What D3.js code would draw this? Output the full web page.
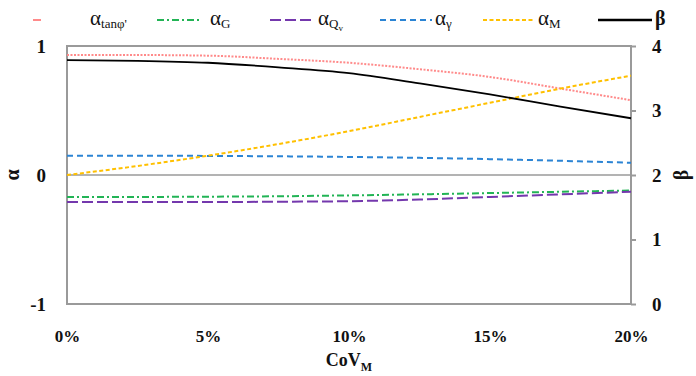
<!DOCTYPE html>
<html>
<head>
<meta charset="utf-8">
<script src="https://cdn.jsdelivr.net/npm/d3@7"></script>
<style>
  html, body { margin: 0; padding: 0; background: #fff; }
  svg { display: block; }
  text { font-family: "Liberation Serif", "Times New Roman", serif; }
</style>
</head>
<body>
<div id="chart"></div>
<script>
// CoV_M values (fraction)
const covM = [0, 0.025, 0.05, 0.075, 0.10, 0.125, 0.15, 0.175, 0.20];

// sensitivity factors (left axis)
const alphaTanPhi = [0.93, 0.93, 0.925, 0.90, 0.87, 0.82, 0.76, 0.67, 0.58];
const alphaG      = [-0.17, -0.17, -0.168, -0.165, -0.158, -0.15, -0.14, -0.13, -0.12];
const alphaQv     = [-0.21, -0.21, -0.21, -0.207, -0.203, -0.19, -0.17, -0.15, -0.13];
const alphaGamma  = [0.15, 0.15, 0.148, 0.145, 0.14, 0.133, 0.123, 0.11, 0.095];
const alphaM      = [0, 0.07, 0.15, 0.24, 0.34, 0.45, 0.56, 0.67, 0.77];

// reliability index (right axis)
const beta = [3.78, 3.77, 3.74, 3.67, 3.58, 3.42, 3.25, 3.06, 2.88];

const xTicks = [0, 0.05, 0.10, 0.15, 0.20];
const leftTicks = [-1, 0, 1];
const rightTicks = [0, 1, 2, 3, 4];

const W = 696, H = 376;
const margin = { top: 46, right: 65, bottom: 72, left: 67 };
const width = W - margin.left - margin.right;
const height = H - margin.top - margin.bottom;

const svg = d3.select('#chart').append('svg')
  .attr('width', W)
  .attr('height', H);

const g = svg.append('g')
  .attr('transform', `translate(${margin.left},${margin.top})`);

const x = d3.scaleLinear().domain([0, 0.2]).range([0, width]);
const yL = d3.scaleLinear().domain([-1, 1]).range([height, 0]);
const yR = d3.scaleLinear().domain([0, 4]).range([height, 0]);

// frame
g.append('rect')
  .attr('width', width)
  .attr('height', height)
  .attr('fill', 'none')
  .attr('stroke', '#9a9a9a')
  .attr('stroke-width', 2);

// zero line
g.append('line')
  .attr('x1', 0).attr('x2', width)
  .attr('y1', yL(0)).attr('y2', yL(0))
  .attr('stroke', '#9a9a9a')
  .attr('stroke-width', 1.5);

// x axis labels
const xAxis = g.append('g')
  .attr('transform', `translate(0,${height})`)
  .call(d3.axisBottom(x).tickValues(xTicks).tickSize(0).tickPadding(26)
    .tickFormat(d => Math.round(d * 100) + '%'));
xAxis.select('.domain').remove();
xAxis.selectAll('text')
  .attr('font-family', '"Liberation Serif", serif')
  .attr('font-weight', 'bold')
  .attr('font-size', 17)
  .attr('fill', '#111');

// left axis labels (plain hyphen for negatives)
const lAxis = g.append('g')
  .call(d3.axisLeft(yL).tickValues(leftTicks).tickSize(0).tickPadding(21)
    .tickFormat(d => String(d)));
lAxis.select('.domain').remove();
lAxis.selectAll('text')
  .attr('font-family', '"Liberation Serif", serif')
  .attr('font-weight', 'bold')
  .attr('font-size', 19)
  .attr('fill', '#111');

// right axis with tick marks
const rAxis = g.append('g')
  .attr('transform', `translate(${width},0)`)
  .call(d3.axisRight(yR).tickValues(rightTicks).tickSize(5).tickPadding(16)
    .tickFormat(d => String(d)));
rAxis.select('.domain').remove();
rAxis.selectAll('line').attr('stroke', '#9a9a9a').attr('stroke-width', 2);
rAxis.selectAll('text')
  .attr('font-family', '"Liberation Serif", serif')
  .attr('font-weight', 'bold')
  .attr('font-size', 19)
  .attr('fill', '#111');

// axis titles
svg.append('text')
  .attr('transform', `translate(19,${margin.top + yL(0)}) rotate(-90)`)
  .attr('text-anchor', 'middle')
  .attr('font-size', 20)
  .attr('font-weight', 'bold')
  .attr('fill', '#111')
  .text('α');

svg.append('text')
  .attr('transform', `translate(688,${margin.top + yR(2)}) rotate(-90)`)
  .attr('text-anchor', 'middle')
  .attr('font-size', 20)
  .attr('font-weight', 'bold')
  .attr('fill', '#111')
  .text('β');

const xTitle = svg.append('text')
  .attr('x', margin.left + width / 2)
  .attr('y', 366)
  .attr('text-anchor', 'middle')
  .attr('font-size', 18)
  .attr('font-weight', 'bold')
  .attr('fill', '#111');
xTitle.append('tspan').text('CoV');
xTitle.append('tspan').attr('font-size', 12).attr('dy', 5).text('M');

// series
const series = [
  { name: 'tanφ\'', values: alphaTanPhi, scale: yL, color: '#ff8a8a', dash: '2,1.5', w: 2 },
  { name: 'G', values: alphaG, scale: yL, color: '#22b455', dash: '7,3,2,3', w: 2 },
  { name: 'Qv', values: alphaQv, scale: yL, color: '#7438ad', dash: '11,4', w: 2 },
  { name: 'γ', values: alphaGamma, scale: yL, color: '#2b84d4', dash: '6,4', w: 2 },
  { name: 'M', values: alphaM, scale: yL, color: '#ffc000', dash: '4,2.5', w: 2 },
  { name: 'β', values: beta, scale: yR, color: '#000', dash: null, w: 1.8 }
];

series.forEach(s => {
  const line = d3.line()
    .x((d, i) => x(covM[i]))
    .y(d => s.scale(d))
    .curve(d3.curveMonotoneX);
  g.append('path')
    .datum(s.values)
    .attr('d', line)
    .attr('fill', 'none')
    .attr('stroke', s.color)
    .attr('stroke-width', s.w)
    .attr('stroke-dasharray', s.dash);
});

// legend
const legendItems = [
  { idx: 0, x1: 33, x2: 41, tx: 90, sub: 'tanφ\'' },
  { idx: 1, x1: 157, x2: 200, tx: 210, sub: 'G' },
  { idx: 2, x1: 270, x2: 315, tx: 318, sub: 'Q', subsub: 'v' },
  { idx: 3, x1: 380, x2: 432, tx: 435, sub: 'γ' },
  { idx: 4, x1: 483, x2: 535, tx: 538, sub: 'M' },
  { idx: 5, x1: 598, x2: 652, tx: 655, sub: null }
];

const legend = svg.append('g');
legendItems.forEach(it => {
  const s = series[it.idx];
  legend.append('line')
    .attr('x1', it.x1).attr('x2', it.x2)
    .attr('y1', 20).attr('y2', 20)
    .attr('stroke', s.color)
    .attr('stroke-width', it.idx === 5 ? 2.5 : 2)
    .attr('stroke-dasharray', it.idx === 0 ? null : s.dash);
  const t = legend.append('text')
    .attr('x', it.tx)
    .attr('y', 25)
    .attr('fill', '#111');
  if (it.sub === null) {
    t.attr('font-size', 20).attr('font-weight', 'bold').text('β');
  } else {
    t.append('tspan').attr('font-size', 21).text('α');
    t.append('tspan').attr('font-size', 13).attr('dy', 3).text(it.sub);
    if (it.subsub) {
      t.append('tspan').attr('font-size', 9).attr('dy', 3).text(it.subsub);
    }
  }
});
</script>
</body>
</html>
